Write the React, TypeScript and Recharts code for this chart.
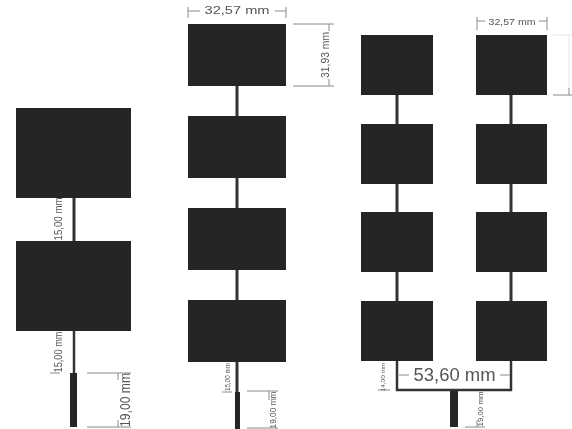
import { ScatterChart, XAxis, YAxis, ReferenceArea, ReferenceLine, ReferenceDot } from 'recharts'

const WIDTH = 572
const HEIGHT = 429

// [x1, x2, y1, y2]
const patches = [
  [16, 131, 108, 198],
  [16, 131, 241, 331],
  [188, 286, 24, 86],
  [188, 286, 116, 178],
  [188, 286, 208, 270],
  [188, 286, 300, 362],
  [361, 433, 35, 95],
  [361, 433, 124, 184],
  [361, 433, 212, 272],
  [361, 433, 301, 361],
  [476, 547, 35, 95],
  [476, 547, 124, 184],
  [476, 547, 212, 272],
  [476, 547, 301, 361],
]

// [x1, x2, y1, y2, width]
const traces = [
  [74, 74, 198, 241, 3],
  [74, 74, 331, 373, 2.5],
  [237, 237, 86, 116, 3],
  [237, 237, 178, 208, 3],
  [237, 237, 270, 300, 3],
  [237, 237, 362, 392, 3],
  [397, 397, 95, 124, 3],
  [397, 397, 184, 212, 3],
  [397, 397, 272, 301, 3],
  [511, 511, 95, 124, 3],
  [511, 511, 184, 212, 3],
  [511, 511, 272, 301, 3],
  [397, 397, 361, 391, 2.5],
  [511, 511, 361, 391, 2.5],
  [396, 512, 390, 390, 2.5],
]

const feeds = [
  [70, 77, 373, 427],
  [235, 240, 392, 429],
  [450, 458, 391, 427],
]

// thin grey dimension lines
const dimLines = [
  [50, 60, 373, 373],
  [87, 131, 373, 373],
  [87, 131, 427, 427],
  [118, 118, 373, 380],
  [118, 118, 420, 427],
  [188, 188, 7, 18],
  [286, 286, 7, 18],
  [188, 200, 11, 11],
  [275, 286, 11, 11],
  [293, 334, 24, 24],
  [293, 334, 86, 86],
  [329, 329, 24, 31],
  [329, 329, 79, 86],
  [222, 232, 392, 392],
  [247, 278, 391, 391],
  [247, 278, 428, 428],
  [269, 269, 391, 400],
  [477, 477, 17, 30],
  [547, 547, 17, 30],
  [477, 485, 21, 21],
  [539, 547, 21, 21],
  [553, 572, 95, 95],
  [569, 569, 88, 95],
  [399, 409, 375, 375],
  [500, 510, 375, 375],
  [378, 390, 390, 390],
  [465, 485, 427, 427],
  [477, 477, 420, 427],
]

const faintLines = [
  [553, 572, 35, 35],
  [569, 569, 35, 88],
]

// text, x, y, size, rotation, drawn length
const labels: [string, number, number, number, number, number][] = [
  ['15,00 mm', 58, 219, 11, -90, 43],
  ['15,00 mm', 58, 352, 11, -90, 41],
  ['19,00 mm', 124, 400, 15, -90, 54],
  ['32,57 mm', 237, 10, 11.5, 0, 65],
  ['31,93 mm', 325, 55, 10, -90, 46],
  ['15,00 mm', 227, 377, 7, -90, 28],
  ['19,00 mm', 273, 410, 9, -90, 37],
  ['32,57 mm', 512, 21, 9.5, 0, 47],
  ['53,60 mm', 454.5, 375, 18, 0, 82],
  ['14,00 mm', 383, 377, 6, -90, 29],
  ['19,00 mm', 480, 409, 7, -90, 35],
]

function DimText({ cx, cy, text, size, rotate, length }: any) {
  return (
    <text
      x={cx}
      y={cy}
      fontFamily="Liberation Sans, Arial, sans-serif"
      fontSize={size}
      fill="#555"
      textAnchor="middle"
      dominantBaseline="central"
      textLength={length}
      lengthAdjust="spacingAndGlyphs"
      transform={rotate ? `rotate(${rotate} ${cx} ${cy})` : undefined}
    >
      {text}
    </text>
  )
}

export default function App() {
  return (
    <div style={{ position: 'absolute', left: 0, top: 0, width: WIDTH, height: HEIGHT, background: '#fff', filter: 'blur(0.4px)' }}>
      <ScatterChart width={WIDTH} height={HEIGHT} margin={{ top: 0, right: 0, bottom: 0, left: 0 }}>
        <XAxis type="number" dataKey="x" domain={[0, WIDTH]} hide allowDataOverflow />
        <YAxis type="number" dataKey="y" domain={[0, HEIGHT]} reversed hide allowDataOverflow />
        {patches.map(([x1, x2, y1, y2], i) => (
          <ReferenceArea key={`p${i}`} x1={x1} x2={x2} y1={y1} y2={y2} fill="#252525" fillOpacity={1} stroke="none" />
        ))}
        {traces.map(([x1, x2, y1, y2, w], i) => (
          <ReferenceLine key={`t${i}`} segment={[{ x: x1, y: y1 }, { x: x2, y: y2 }]} stroke="#333" strokeWidth={w} />
        ))}
        {feeds.map(([x1, x2, y1, y2], i) => (
          <ReferenceArea key={`f${i}`} x1={x1} x2={x2} y1={y1} y2={y2} fill="#252525" fillOpacity={1} stroke="none" />
        ))}
        {dimLines.map(([x1, x2, y1, y2], i) => (
          <ReferenceLine key={`d${i}`} segment={[{ x: x1, y: y1 }, { x: x2, y: y2 }]} stroke="#8a8a8a" strokeWidth={1} />
        ))}
        {faintLines.map(([x1, x2, y1, y2], i) => (
          <ReferenceLine key={`g${i}`} segment={[{ x: x1, y: y1 }, { x: x2, y: y2 }]} stroke="#e6e6e6" strokeWidth={1} />
        ))}
        {labels.map(([text, x, y, size, rotate, length], i) => (
          <ReferenceDot
            key={`l${i}`}
            x={x}
            y={y}
            r={0}
            shape={(p: any) => <DimText cx={p.cx} cy={p.cy} text={text} size={size} rotate={rotate} length={length} />}
          />
        ))}
      </ScatterChart>
    </div>
  )
}
